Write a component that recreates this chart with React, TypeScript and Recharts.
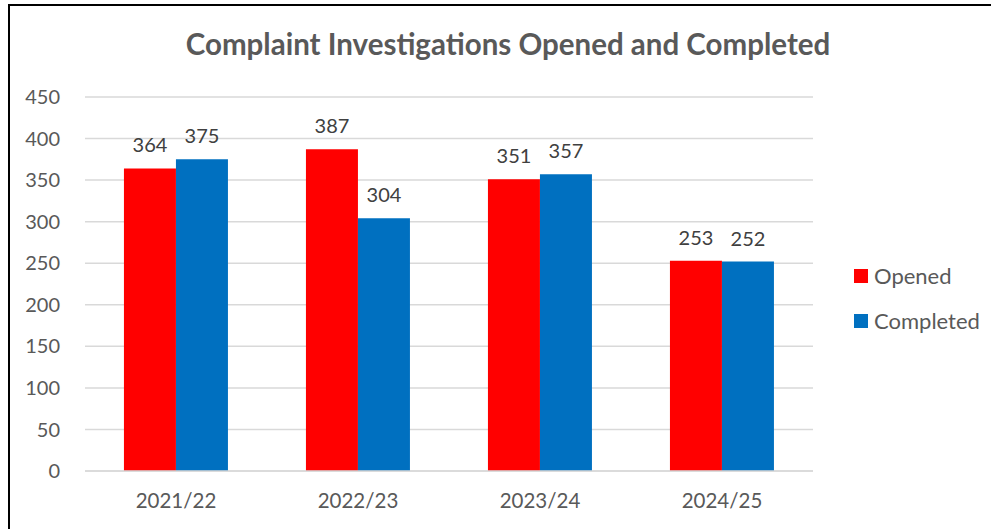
import React from "react";
import { BarChart, Bar, XAxis, YAxis, CartesianGrid, Legend, LabelList } from "recharts";

const years = ["2021/22", "2022/23", "2023/24", "2024/25"];
const opened = [364, 387, 351, 253];
const completed = [375, 304, 357, 252];
const yTicks = [0, 50, 100, 150, 200, 250, 300, 350, 400, 450];

const data = years.map((year, i) => ({ year, opened: opened[i], completed: completed[i] }));

const FONT = "Lato, 'Noto Sans', sans-serif";
const GREY = "#595959";

const LegendBox = () => (
  <div style={{ fontFamily: FONT, fontSize: 22, color: GREY }}>
    {[
      { name: "Opened", color: "#FF0000" },
      { name: "Completed", color: "#0070C0" },
    ].map((it) => (
      <div key={it.name} style={{ display: "flex", alignItems: "center", height: 45 }}>
        <span style={{ width: 14, height: 14, background: it.color, marginRight: 6, display: "inline-block" }} />
        {it.name}
      </div>
    ))}
  </div>
);

export default function App() {
  return (
    <div
      style={{
        position: "absolute",
        left: 8,
        top: 4,
        width: 1000,
        height: 540,
        borderLeft: "2px solid #000",
        borderTop: "2px solid #000",
        boxSizing: "border-box",
        background: "#fff",
      }}
    >
      <div
        style={{
          position: "absolute",
          left: 498,
          top: 20,
          transform: "translateX(-50%)",
          whiteSpace: "nowrap",
          fontFamily: FONT,
          fontWeight: 700,
          fontSize: 29.5,
          color: GREY,
        }}
      >
        Complaint Investigations Opened and Completed
      </div>
      <BarChart
        width={981}
        height={523}
        data={data}
        margin={{ top: 91, right: 38, left: 15, bottom: 26 }}
        barCategoryGap="21.4%"
        barGap={0}
      >
        <CartesianGrid vertical={false} stroke="#D9D9D9" strokeWidth={1.5} />
        <XAxis
          dataKey="year"
          axisLine={{ stroke: "#D9D9D9", strokeWidth: 1.5 }}
          tickLine={false}
          tick={{ fill: GREY, fontSize: 20.5, fontFamily: FONT }}
          height={32}
          tickMargin={16}
        />
        <YAxis
          domain={[0, 450]}
          ticks={yTicks}
          axisLine={false}
          tickLine={false}
          tick={{ fill: GREY, fontSize: 20, fontFamily: FONT }}
          width={60}
          tickMargin={19}
        />
        <Legend
          layout="vertical"
          align="right"
          verticalAlign="top"
          content={<LegendBox />}
          wrapperStyle={{ left: 844, top: 247, width: 140 }}
        />
        <Bar dataKey="opened" name="Opened" fill="#FF0000" isAnimationActive={false}>
          <LabelList dataKey="opened" position="top" offset={16} fill="#404040" fontSize={20} fontFamily={FONT} />
        </Bar>
        <Bar dataKey="completed" name="Completed" fill="#0070C0" isAnimationActive={false}>
          <LabelList dataKey="completed" position="top" offset={16} fill="#404040" fontSize={20} fontFamily={FONT} />
        </Bar>
      </BarChart>
    </div>
  );
}
